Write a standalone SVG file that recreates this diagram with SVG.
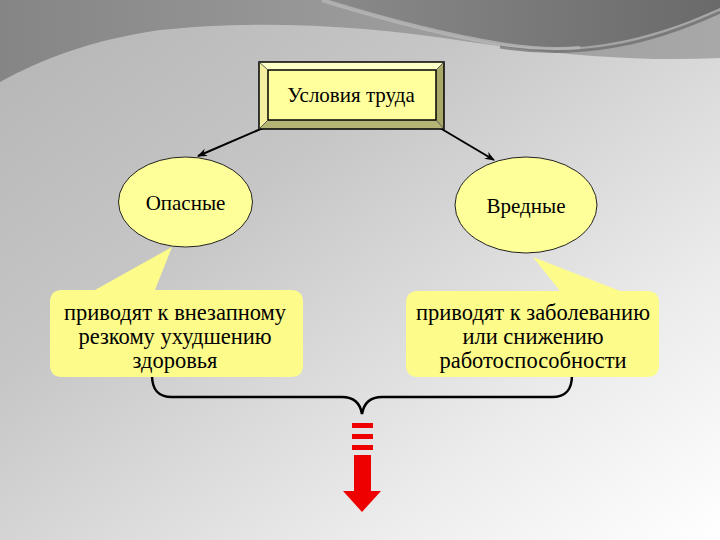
<svg xmlns="http://www.w3.org/2000/svg" width="720" height="540" viewBox="0 0 720 540">
<defs>
<linearGradient id="bg" x1="0" y1="0" x2="1" y2="1">
<stop offset="0" stop-color="#b4b4b4"/>
<stop offset="0.35" stop-color="#c6c6c6"/>
<stop offset="0.75" stop-color="#ececec"/>
<stop offset="1" stop-color="#ffffff"/>
</linearGradient>
<linearGradient id="topg" x1="0" y1="0" x2="1" y2="0">
<stop offset="0" stop-color="#858585"/>
<stop offset="0.5" stop-color="#9a9a9a"/>
<stop offset="1" stop-color="#a8a8a8"/>
</linearGradient>
<linearGradient id="swg" x1="0" y1="0" x2="1" y2="0">
<stop offset="0" stop-color="#8a8a8a"/>
<stop offset="1" stop-color="#6a6a6a"/>
</linearGradient>
<marker id="arr" viewBox="0 0 10 10" refX="9" refY="5" markerWidth="5" markerHeight="5" orient="auto" markerUnits="strokeWidth">
<path d="M0,1 L10,5 L0,9 L3,5 Z" fill="#000"/>
</marker>
<style>
.t{font-family:"Liberation Serif","Times New Roman",serif;font-size:21px;fill:#000;text-anchor:middle}
.c{font-size:22.5px}
.ell{fill:#ffff99;stroke:#222;stroke-width:1}
.call{fill:#fdfb8a}
.con{stroke:#000;stroke-width:2;fill:none}
</style>
</defs>
<g id="background">
<rect width="720" height="540" fill="url(#bg)"/>
<path d="M0,0 H720 V58 C640,62 560,55 470,42 C360,24 250,20 160,30 C90,40 40,60 0,82 Z" fill="url(#topg)"/>
<path d="M322,0 C380,18 440,34 500,44 C580,56 650,40 720,8 V0 Z" fill="url(#swg)"/>
<path d="M322,0 C380,18 440,34 500,44 C530,49 555,50 580,48" fill="none" stroke="#b8b8b8" stroke-width="4" opacity="0.8"/>
<path d="M500,47 C580,60 650,44 720,12" fill="none" stroke="#5e5e5e" stroke-width="3" opacity="0.6"/>
</g>
<g id="connectors">
<line class="con" x1="263" y1="128" x2="198" y2="156" marker-end="url(#arr)"/>
<line class="con" x1="440" y1="128" x2="494" y2="160" marker-end="url(#arr)"/>
<path d="M152,375 C152,390 158,397 172,397 H342 C352,397 360,402 362,414 C364,402 372,397 382,397 H552 C566,397 572,390 572,375" fill="none" stroke="#000" stroke-width="2.5"/>
</g>
<g id="title">
<polygon points="259,62 444,62 436,70 268,70" fill="#ffffc8"/>
<polygon points="259,62 268,70 268,120 259,129" fill="#f4f0a0"/>
<polygon points="444,62 444,129 436,120 436,70" fill="#a8a868"/>
<polygon points="259,129 268,120 436,120 444,129" fill="#b4b474"/>
<rect x="259" y="62" width="185" height="67" fill="none" stroke="#000" stroke-width="1.5"/>
<rect x="268" y="70" width="168" height="50" fill="#ffff9e" stroke="#000" stroke-width="1.5"/>
<line x1="259" y1="62" x2="268" y2="70" stroke="#444" stroke-width="0.8"/>
<line x1="444" y1="62" x2="436" y2="70" stroke="#444" stroke-width="0.8"/>
<line x1="259" y1="129" x2="268" y2="120" stroke="#444" stroke-width="0.8"/>
<line x1="444" y1="129" x2="436" y2="120" stroke="#444" stroke-width="0.8"/>
<text class="t" x="351" y="102">Условия труда</text>
</g>
<g id="dangerous">
<ellipse class="ell" cx="185.5" cy="202" rx="67" ry="45"/>
<text class="t" x="185.5" y="210">Опасные</text>
</g>
<g id="harmful">
<ellipse class="ell" cx="526" cy="205" rx="71" ry="48"/>
<text class="t" x="526" y="213">Вредные</text>
</g>
<g id="callout-left">
<path class="call" d="M62,290 H95 L172,247 L155,290 H291 Q303,290 303,302 V365 Q303,377 291,377 H62 Q50,377 50,365 V302 Q50,290 62,290 Z"/>
<text class="t c" x="175" y="320">приводят к внезапному</text>
<text class="t c" x="175" y="344">резкому ухудшению</text>
<text class="t c" x="175" y="368">здоровья</text>
</g>
<g id="callout-right">
<path class="call" d="M418,291 H560 L533,257 L620,291 H647 Q659,291 659,303 V365 Q659,377 647,377 H418 Q406,377 406,365 V303 Q406,291 418,291 Z"/>
<text class="t c" x="533" y="320">приводят к заболеванию</text>
<text class="t c" x="533" y="344">или снижению</text>
<text class="t c" x="533" y="368">работоспособности</text>
</g>
<g id="red-arrow" fill="#ee0000">
<rect x="352" y="423" width="21" height="5"/>
<rect x="352" y="434" width="21" height="5"/>
<rect x="352" y="445" width="21" height="5"/>
<rect x="354" y="455" width="17" height="36"/>
<polygon points="343,491 381,491 362,512"/>
</g>
</svg>
